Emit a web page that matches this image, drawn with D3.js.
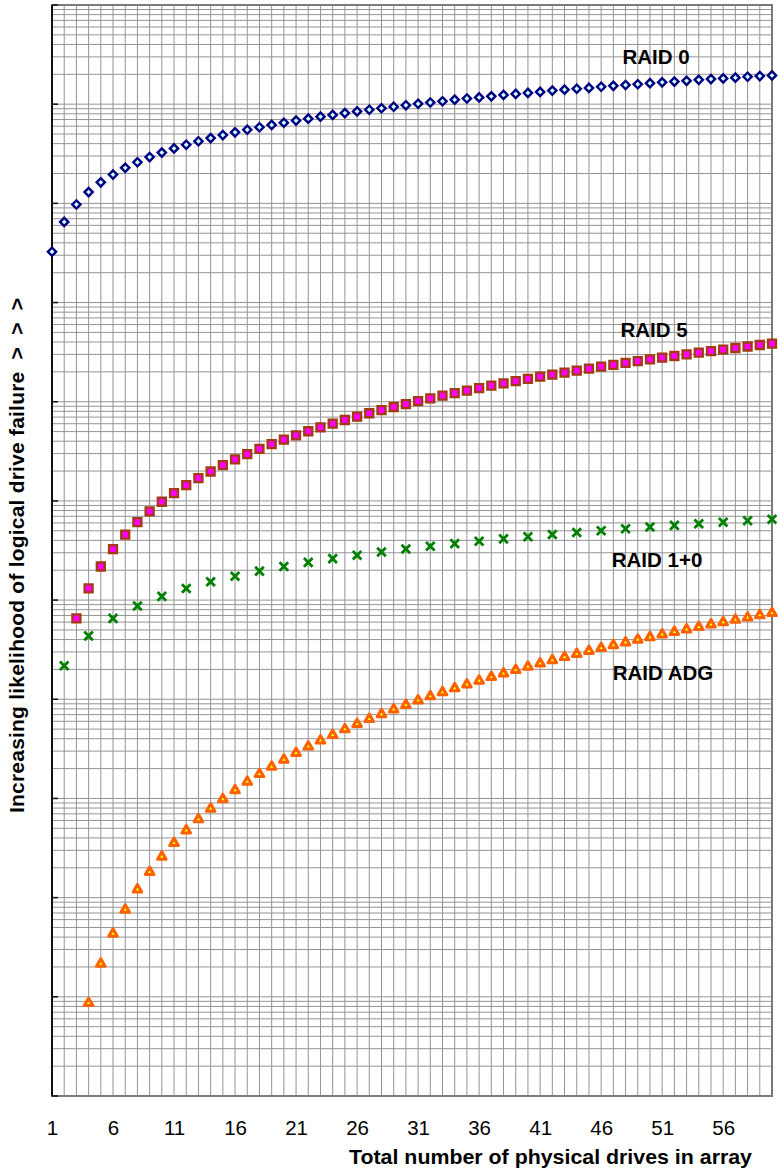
<!DOCTYPE html>
<html lang="en">

<head>
    <meta charset="UTF-8">
    <title>Logical drive failure by RAID level</title>
    <style>
        body { margin: 0; background: #fff; }
        svg { display: block; font-family: "Liberation Sans", Arial, sans-serif; }
    </style>
</head>

<body>
    <div id="wrapper"></div>

    <script src="https://cdn.jsdelivr.net/npm/d3@7"></script>
    <script>
        // x categories: number of physical drives
        const driveCounts = [1, 2, 3, 4, 5, 6, 7, 8, 9, 10, 11, 12, 13, 14, 15, 16, 17, 18, 19, 20,
            21, 22, 23, 24, 25, 26, 27, 28, 29, 30, 31, 32, 33, 34, 35, 36, 37, 38, 39, 40,
            41, 42, 43, 44, 45, 46, 47, 48, 49, 50, 51, 52, 53, 54, 55, 56, 57, 58, 59, 60];
        const xTickLabels = [1, 6, 11, 16, 21, 26, 31, 36, 41, 46, 51, 56];

        // relative likelihood (log axis, no labels in the original)
        // RAID 0 : 1..60 drives
        const raid0 = [32500, 65000, 97500, 130000, 163000, 195000, 228000, 260000, 293000, 325000,
            358000, 390000, 423000, 455000, 488000, 520000, 553000, 585000, 618000, 650000,
            683000, 715000, 748000, 780000, 813000, 845000, 878000, 910000, 943000, 975000,
            1010000, 1040000, 1070000, 1110000, 1140000, 1170000, 1200000, 1240000, 1270000, 1300000,
            1330000, 1370000, 1400000, 1430000, 1460000, 1500000, 1530000, 1560000, 1590000, 1630000,
            1660000, 1690000, 1720000, 1760000, 1790000, 1820000, 1850000, 1890000, 1920000, 1950000];
        // RAID 5 : 3..60 drives
        const raid5 = [6.54, 13.1, 21.8, 32.7, 45.8, 61.0, 78.5, 98.1, 120, 144,
            170, 198, 229, 262, 296, 334, 373, 414, 458, 504,
            552, 602, 654, 709, 765, 824, 885, 948, 1014, 1081,
            1151, 1223, 1297, 1373, 1452, 1533, 1615, 1700, 1788, 1877,
            1969, 2062, 2158, 2256, 2357, 2459, 2564, 2671, 2780, 2891,
            3004, 3120, 3237, 3357, 3479, 3604, 3730, 3859];
        // RAID 1+0 : even drive counts only
        const raid10Drives = [2, 4, 6, 8, 10, 12, 14, 16, 18, 20, 22, 24, 26, 28, 30,
            32, 34, 36, 38, 40, 42, 44, 46, 48, 50, 52, 54, 56, 58, 60];
        const raid10 = [2.18, 4.36, 6.54, 8.72, 10.9, 13.1, 15.3, 17.4, 19.6, 21.8,
            24.0, 26.2, 28.3, 30.5, 32.7, 34.9, 37.1, 39.2, 41.4, 43.6,
            45.8, 48.0, 50.1, 52.3, 54.5, 56.7, 58.9, 61.0, 63.2, 65.4];
        // RAID ADG : 4..60 drives
        const raidAdg = [0.000864, 0.00216, 0.00432, 0.00756, 0.0121, 0.0181, 0.0259, 0.0356, 0.0475, 0.0618,
            0.0786, 0.0983, 0.121, 0.147, 0.176, 0.209, 0.246, 0.287, 0.333, 0.383,
            0.437, 0.497, 0.562, 0.632, 0.708, 0.789, 0.877, 0.971, 1.07, 1.18,
            1.29, 1.41, 1.54, 1.68, 1.82, 1.97, 2.13, 2.30, 2.48, 2.67,
            2.86, 3.07, 3.28, 3.50, 3.74, 3.98, 4.23, 4.50, 4.77, 5.06,
            5.36, 5.67, 5.99, 6.32, 6.66, 7.02, 7.39];

        const seriesNames = ["RAID 0", "RAID 5", "RAID 1+0", "RAID ADG"];
        const xTitle = "Total number of physical drives in array";
        const yTitle = "Increasing likelihood of logical drive failure  >  >  >";

        function drawChart() {
            let dimensions = {
                width: 779,
                height: 1172,
                margin: { top: 5, right: 7, bottom: 76, left: 52 },
            };
            dimensions.boundedWidth = dimensions.width - dimensions.margin.left - dimensions.margin.right;
            dimensions.boundedHeight = dimensions.height - dimensions.margin.top - dimensions.margin.bottom;

            const wrapper = d3.select("#wrapper")
                .append("svg")
                .attr("width", dimensions.width)
                .attr("height", dimensions.height);

            const bounds = wrapper.append("g")
                .attr("transform", `translate(${dimensions.margin.left},${dimensions.margin.top})`);

            const xScale = d3.scaleLinear()
                .domain([1, 60])
                .range([0, dimensions.boundedWidth]);

            const yScale = d3.scaleLog()
                .domain([1e-4, 1e7])
                .range([dimensions.boundedHeight, 0]);

            // grid
            const yTicks = yScale.ticks(30);
            const isDecade = (v) => Math.abs(Math.log10(v) - Math.round(Math.log10(v))) < 1e-9;

            bounds.append("g").selectAll("line")
                .data(yTicks)
                .join("line")
                .attr("x1", 0)
                .attr("x2", dimensions.boundedWidth)
                .attr("y1", (d) => yScale(d))
                .attr("y2", (d) => yScale(d))
                .attr("stroke", "#949494")
                .attr("stroke-width", 1);

            bounds.append("g").selectAll("line")
                .data(driveCounts)
                .join("line")
                .attr("x1", (d) => xScale(d))
                .attr("x2", (d) => xScale(d))
                .attr("y1", 0)
                .attr("y2", dimensions.boundedHeight)
                .attr("stroke", "#949494")
                .attr("stroke-width", 1);

            // plot area border
            bounds.append("rect")
                .attr("width", dimensions.boundedWidth)
                .attr("height", dimensions.boundedHeight)
                .attr("fill", "none")
                .attr("stroke", "#7a7a7a")
                .attr("stroke-width", 2);

            // left axis with inside ticks at decades
            bounds.append("line")
                .attr("x1", 0).attr("x2", 0)
                .attr("y1", 0).attr("y2", dimensions.boundedHeight)
                .attr("stroke", "#111")
                .attr("stroke-width", 2);

            bounds.append("g").selectAll("line")
                .data(yTicks.filter(isDecade))
                .join("line")
                .attr("x1", 0)
                .attr("x2", 6)
                .attr("y1", (d) => yScale(d))
                .attr("y2", (d) => yScale(d))
                .attr("stroke", "#111")
                .attr("stroke-width", 1.5);

            // x axis labels
            const xAxisGenerator = d3.axisBottom(xScale)
                .tickValues(xTickLabels)
                .tickFormat(d3.format("d"))
                .tickSize(0)
                .tickPadding(24);

            const xAxis = bounds.append("g")
                .attr("transform", `translate(0,${dimensions.boundedHeight})`)
                .call(xAxisGenerator);
            xAxis.select(".domain").remove();
            xAxis.selectAll("text")
                .attr("font-family", "Liberation Sans, Arial, sans-serif")
                .attr("font-size", 20.5)
                .attr("fill", "#000");

            // markers
            const marks = bounds.append("g");

            const diamond = d3.symbol().type(d3.symbolSquare).size(34);
            marks.append("g").selectAll("path")
                .data(raid0)
                .join("path")
                .attr("d", diamond)
                .attr("transform", (d, i) => `translate(${xScale(driveCounts[i])},${yScale(d)}) rotate(45)`)
                .attr("fill", "#ccffff")
                .attr("stroke", "#000080")
                .attr("stroke-width", 2.4);

            const square = d3.symbol().type(d3.symbolSquare).size(64);
            marks.append("g").selectAll("path")
                .data(raid5)
                .join("path")
                .attr("d", square)
                .attr("transform", (d, i) => `translate(${xScale(driveCounts[i + 2])},${yScale(d)})`)
                .attr("fill", "#ff00ff")
                .attr("stroke", "#a33a10")
                .attr("stroke-width", 2.3);

            marks.append("g").selectAll("path")
                .data(raid10)
                .join("path")
                .attr("d", "M-4.3,-4.3L4.3,4.3M4.3,-4.3L-4.3,4.3")
                .attr("transform", (d, i) => `translate(${xScale(raid10Drives[i])},${yScale(d)})`)
                .attr("fill", "none")
                .attr("stroke", "#008000")
                .attr("stroke-width", 2.8);

            const triangle = d3.symbol().type(d3.symbolTriangle).size(32);
            marks.append("g").selectAll("path")
                .data(raidAdg)
                .join("path")
                .attr("d", triangle)
                .attr("transform", (d, i) => `translate(${xScale(driveCounts[i + 3])},${yScale(d)})`)
                .attr("fill", "#ffff00")
                .attr("stroke", "#ff6000")
                .attr("stroke-width", 3)
                .attr("stroke-linejoin", "round");

            // series labels
            const labelSpots = [
                { x: 656, y: 64 },
                { x: 654, y: 337 },
                { x: 657, y: 567 },
                { x: 663, y: 680 },
            ];
            wrapper.append("g").selectAll("text")
                .data(seriesNames)
                .join("text")
                .attr("x", (d, i) => labelSpots[i].x)
                .attr("y", (d, i) => labelSpots[i].y)
                .attr("text-anchor", "middle")
                .attr("font-size", 20.5)
                .attr("font-weight", "bold")
                .text((d) => d);

            // axis titles
            wrapper.append("text")
                .attr("x", 349)
                .attr("y", 1164)
                .attr("font-size", 21)
                .attr("font-weight", "bold")
                .attr("textLength", 403)
                .attr("lengthAdjust", "spacingAndGlyphs")
                .text(xTitle);

            wrapper.append("text")
                .attr("transform", "translate(24,813) rotate(-90)")
                .attr("x", 0)
                .attr("y", 0)
                .attr("font-size", 21)
                .attr("font-weight", "bold")
                .attr("textLength", 515)
                .attr("lengthAdjust", "spacing")
                .style("white-space", "pre")
                .text(yTitle);
        }
        drawChart()
    </script>
</body>

</html>
